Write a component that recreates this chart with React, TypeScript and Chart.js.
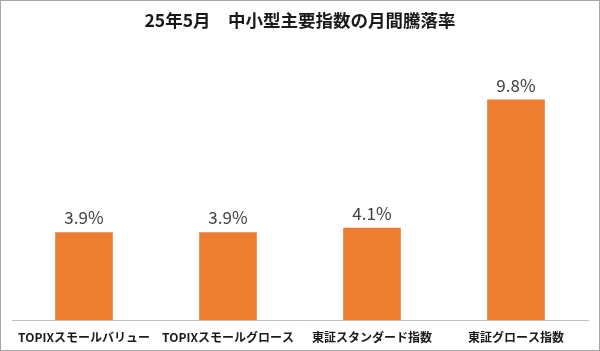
import React, { useEffect, useRef } from "react";
import { Chart, registerables } from "chart.js";

Chart.register(...registerables);

const categories = [
  "TOPIXスモールバリュー",
  "TOPIXスモールグロース",
  "東証スタンダード指数",
  "東証グロース指数",
];
const values = [3.9, 3.9, 4.1, 9.8];
const titleText = "25年5月　中小型主要指数の月間騰落率";

const barLabelPlugin = {
  id: "barLabels",
  afterDatasetsDraw(chart: any) {
    const ctx = chart.ctx;
    const meta = chart.getDatasetMeta(0);
    ctx.save();
    ctx.font = "17px 'Noto Sans CJK JP', 'Noto Sans', sans-serif";
    ctx.fillStyle = "#404040";
    ctx.textAlign = "center";
    ctx.textBaseline = "alphabetic";
    meta.data.forEach((bar: any, i: number) => {
      const v = chart.data.datasets[0].data[i] as number;
      ctx.fillText(v.toFixed(1) + "%", bar.x, bar.y - 8);
    });
    ctx.restore();
  },
};

export default function App() {
  const ref = useRef<HTMLCanvasElement>(null);
  useEffect(() => {
    document.body.style.margin = "0";
    const chart = new Chart(ref.current!, {
      type: "bar",
      data: {
        labels: categories,
        datasets: [
          {
            data: values,
            backgroundColor: "#ed7d31",
            barPercentage: 0.4,
            categoryPercentage: 1,
          },
        ],
      },
      options: {
        animation: false,
        responsive: false,
        layout: { padding: { left: 11, right: 11, top: 0, bottom: 0 } },
        plugins: {
          legend: { display: false },
          tooltip: { enabled: false },
          title: {
            display: true,
            text: titleText,
            color: "#1a1a1a",
            font: { size: 17.5, weight: "bold", family: "'Noto Sans CJK JP', sans-serif" },
            padding: { top: 8.5, bottom: 42 },
          },
        },
        scales: {
          x: {
            grid: { display: false, drawTicks: false },
            border: { display: true, color: "#bfbfbf" },
            afterFit: (scale: any) => {
              scale.height = 30;
            },
            ticks: {
              color: "#1a1a1a",
              padding: 9.8,
              maxRotation: 0,
              autoSkip: false,
              font: { size: 12, weight: "bold", family: "'Noto Sans CJK JP', sans-serif" },
            },
          },
          y: {
            display: false,
            min: 0,
            max: 11,
          },
        },
      },
      plugins: [barLabelPlugin],
    });
    return () => chart.destroy();
  }, []);
  return (
    <div
      style={{
        width: 600,
        height: 351,
        border: "1px solid #a6a6a6",
        boxSizing: "border-box",
        background: "#fff",
      }}
    >
      <canvas ref={ref} width={598} height={349} style={{ display: "block" }} />
    </div>
  );
}
